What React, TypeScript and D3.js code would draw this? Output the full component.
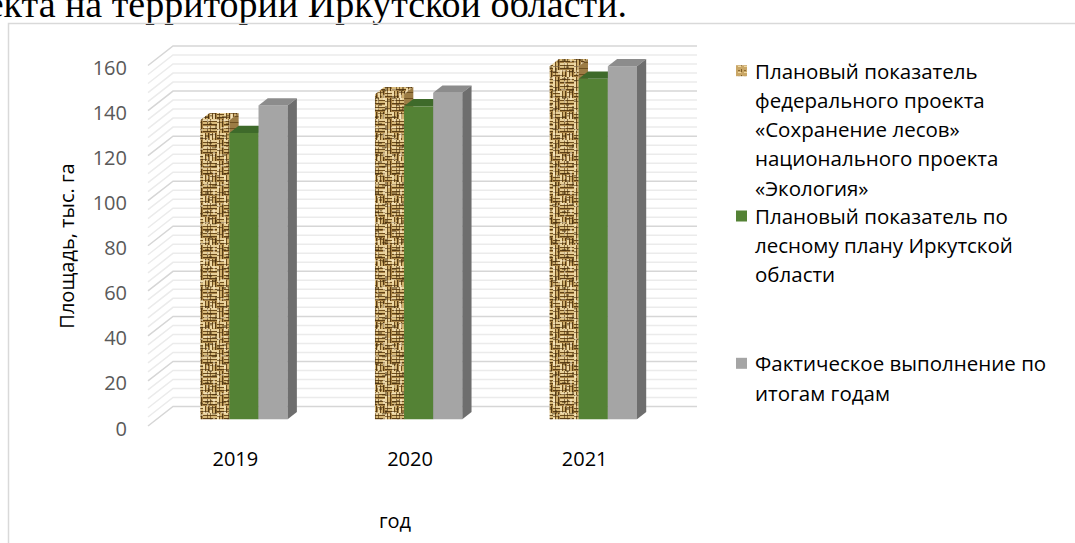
import React from 'react';
import * as d3 from 'd3';

const categories = ['2019', '2020', '2021'];
const seriesNames = [
  ['Плановый показатель', 'федерального проекта', '«Сохранение лесов»', 'национального проекта', '«Экология»'],
  ['Плановый показатель по', 'лесному плану Иркутской', 'области'],
  ['Фактическое выполнение по', 'итогам годам'],
];
const federalPlan = [132.7, 144.3, 156.7];
const regionalPlan = [127.1, 138.9, 151.1];
const actualDone = [139.3, 144.9, 156.7];
const yTicks = [0, 20, 40, 60, 80, 100, 120, 140, 160];
const minorStep = 4;

const W = 1075;
const H = 543;
const FONT = "'Open Sans', sans-serif";

// weave cells: [x, y, horizontal?]
const weaveCells: [number, number, boolean][] = [
  [0, 0, true], [7, 0, false], [14, 0, true],
  [0, 7, false], [7, 7, true], [14, 7, false],
  [0, 14, true], [7, 14, false], [14, 14, true],
];
// irregular blotches for the texture overlay: [x, y, w, h, dark?]
const blotches: [number, number, number, number, boolean][] = [
  [1, 2, 4, 2, true], [9, 0, 2, 5, false], [5, 9, 3, 2, true], [11, 11, 2, 4, true],
  [0, 13, 5, 1.5, false], [13, 4, 3, 1.5, true], [3, 5, 1.5, 3, false], [8, 14, 4, 1.5, true],
  [14, 15, 2, 2, false], [6, 1, 2, 1.5, true],
];

export default function App() {
  const series = [federalPlan, regionalPlan, actualDone];
  const xF0 = 148, xF1 = 672;
  const Dx = 25, Dy = -19.5;
  const yF = d3.scaleLinear().domain([0, 160]).range([426, 65.5]);
  const xBand = d3.scaleBand<string>().domain(categories).range([xF0, xF1]).paddingInner(0.5).paddingOuter(0.25);
  const xInner = d3.scaleBand<number>().domain([0, 1, 2]).range([0, xBand.bandwidth()]).padding(0);
  const fFront = 0.345, fBack = 0.715;
  const minorVals = d3.range(0, 160 + 0.001, minorStep);

  const fronts = ['url(#burlap)', '#548235', '#a5a5a5'];
  const tops = ['url(#burlap)', '#3e6a2a', '#8c8c8c'];
  const sides = ['url(#burlapSide)', '#3a5e25', '#6e6e6e'];

  const bars: React.ReactNode[] = [];
  categories.forEach((c, ci) => {
    series.forEach((s, si) => {
      const v = s[ci];
      const x0 = (xBand(c) as number) + (xInner(si) as number) + fFront * Dx;
      const x1 = x0 + xInner.bandwidth();
      const yb = yF(0) + fFront * Dy;
      const yt = yF(v) + fFront * Dy;
      const dx = (fBack - fFront) * Dx;
      const dy = (fBack - fFront) * Dy;
      const topD = `M${x0},${yt}L${x1},${yt}L${x1 + dx},${yt + dy}L${x0 + dx},${yt + dy}Z`;
      bars.push(
        <g key={`${ci}-${si}`}>
          <rect x={x0} y={yt} width={x1 - x0} height={yb - yt} fill={fronts[si]} />
          {si === 0 && <rect x={x0} y={yt} width={x1 - x0} height={yb - yt} fill="url(#blotch)" />}
          <path d={topD} fill={tops[si]} />
          {si === 0 && <path d={topD} fill="url(#blotch)" />}
          <path d={`M${x1},${yt}L${x1 + dx},${yt + dy}L${x1 + dx},${yb + dy}L${x1},${yb}Z`} fill={sides[si]} />
        </g>
      );
    });
  });

  const legendY = [70.7, 216, 363.3];
  const legendSw = ['url(#burlapLeg)', '#548235', '#a5a5a5'];

  return (
    <svg width={W} height={H} style={{ position: 'absolute', left: 0, top: 0, background: '#fff' }} fontFamily={FONT}>
      <defs>
        <pattern id="burlap" patternUnits="userSpaceOnUse" width="21" height="21">
          <rect width="21" height="21" fill="#b8914f" />
          {weaveCells.map(([x, y, h], i) =>
            h ? (
              <g key={i}>
                <rect x={x} y={y} width={7} height={2} fill="#e8d09a" />
                <rect x={x} y={y + 2} width={7} height={1} fill="#6e4d1c" />
                <rect x={x} y={y + 3} width={7} height={2} fill="#d8ba7a" />
                <rect x={x} y={y + 5} width={7} height={1.2} fill="#5e4016" />
                <rect x={x + (i % 3) * 2} y={y} width={1} height={6} fill="#4e3410" opacity={0.6} />
              </g>
            ) : (
              <g key={i}>
                <rect x={x} y={y} width={2} height={7} fill="#eed8a4" />
                <rect x={x + 2} y={y} width={1} height={7} fill="#6e4d1c" />
                <rect x={x + 3} y={y} width={2} height={7} fill="#cfae6c" />
                <rect x={x + 5} y={y} width={1.2} height={7} fill="#5a3d14" />
                <rect x={x} y={y + (i % 3) * 2 + 1} width={6} height={1} fill="#4e3410" opacity={0.6} />
              </g>
            )
          )}
        </pattern>
        <pattern id="blotch" patternUnits="userSpaceOnUse" width="17" height="19">
          {blotches.map(([x, y, w, h, dark], i) => (
            <rect key={i} x={x} y={y} width={w} height={h} fill={dark ? '#3e2808' : '#fff4d6'} opacity={dark ? 0.45 : 0.5} />
          ))}
        </pattern>
        <pattern id="burlapSide" patternUnits="userSpaceOnUse" width="12" height="12">
          <rect width="12" height="12" fill="#9c7c44" />
          <rect x="0" y="2" width="12" height="1" fill="#6e5020" />
          <rect x="0" y="8" width="12" height="1" fill="#6e5020" />
        </pattern>
        <pattern id="burlapLeg" patternUnits="userSpaceOnUse" width="6" height="6">
          <rect width="6" height="6" fill="#c9a666" />
          <rect x="0" y="0" width="3" height="1" fill="#efd9a2" />
          <rect x="3" y="3" width="1" height="3" fill="#7d5d28" />
          <rect x="0" y="4" width="2" height="1" fill="#8a6a32" />
        </pattern>
      </defs>

      <text x={627} y={17} textAnchor="end" fontFamily="'Liberation Serif', serif" fontSize={38} fill="#000">
        проекта на территории Иркутской области.
      </text>

      <path d={`M8.5,${H}V23.5H${W}`} fill="none" stroke="#d9d9d9" strokeWidth={1.5} />

      {minorVals.filter(v => v % 20 !== 0).map(v => (
        <path key={`mi${v}`} d={`M${xF0},${yF(v)}L${xF0 + Dx},${yF(v) + Dy}L${xF1 + Dx},${yF(v) + Dy}`} stroke="#ebebeb" strokeWidth={1.5} fill="none" />
      ))}
      {yTicks.map(v => (
        <path key={`ma${v}`} d={`M${xF0},${yF(v)}L${xF0 + Dx},${yF(v) + Dy}L${xF1 + Dx},${yF(v) + Dy}`} stroke="#d6d6d6" strokeWidth={1.5} fill="none" />
      ))}

      {bars}

      {yTicks.map(v => (
        <text key={`t${v}`} x={127} y={yF(v) + 2} textAnchor="end" dominantBaseline="central" fontSize={20} fill="#595959">
          {v}
        </text>
      ))}

      {categories.map(c => (
        <text key={c} x={(xBand(c) as number) + xBand.bandwidth() / 2} y={458} textAnchor="middle" dominantBaseline="central" fontSize={20} fill="#000">
          {c}
        </text>
      ))}

      <text x={395} y={520} textAnchor="middle" dominantBaseline="central" fontSize={20} fill="#000">год</text>
      <text transform="translate(66,246) rotate(-90)" textAnchor="middle" dominantBaseline="central" fontSize={20} fill="#000">
        Площадь, тыс. га
      </text>

      {seriesNames.map((lines, i) => (
        <g key={`lg${i}`}>
          <rect x={736} y={legendY[i] - 5.5} width={11} height={11} fill={legendSw[i]} />
          {lines.map((ln, j) => (
            <text key={j} x={755} y={legendY[i] + j * 29.2} dominantBaseline="central" fontSize={20.5} fill="#000">
              {ln}
            </text>
          ))}
        </g>
      ))}
    </svg>
  );
}
